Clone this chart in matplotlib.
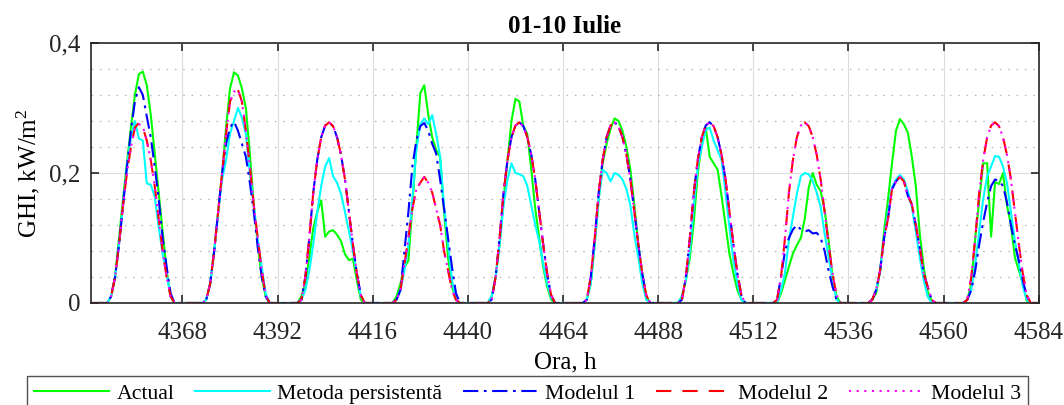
import numpy as np
import matplotlib
matplotlib.use('Agg')
import matplotlib.pyplot as plt
from matplotlib.ticker import MultipleLocator, FuncFormatter

plt.rcParams['font.family'] = ['Liberation Serif', 'DejaVu Serif']
plt.rcParams['mathtext.fontset'] = 'custom'
plt.rcParams['mathtext.rm'] = 'Liberation Serif'
plt.rcParams['mathtext.it'] = 'Liberation Serif:italic'
plt.rcParams['lines.scale_dashes'] = False

# ora din an, 01-10 iulie (10 zile x 24 h)
hours = np.arange(4345, 4585)
xticks = np.arange(4368, 4585, 24)

# GHI masurat, kW/m2, cate o linie pe zi
actual = [
    [0, 0, 0, 0, 0, .01, .04, .10, .16, .215, .27, .32, .352, .356, .335, .29, .23, .17, .11, .05, .01, 0, 0, 0],
    [0, 0, 0, 0, 0, .005, .03, .08, .14, .20, .27, .33, .355, .35, .33, .30, .23, .15, .09, .04, .01, 0, 0, 0],
    [0, 0, 0, 0, 0, .01, .03, .07, .115, .14, .158, .102, .11, .112, .105, .095, .075, .066, .068, .035, .005, 0, 0, 0],
    [0, 0, 0, 0, 0, .01, .03, .055, .065, .15, .24, .323, .335, .29, .255, .235, .225, .14, .07, .025, .005, 0, 0, 0],
    [0, 0, 0, 0, 0, .01, .04, .09, .16, .22, .28, .314, .31, .272, .26, .205, .145, .10, .055, .025, .005, 0, 0, 0],
    [0, 0, 0, 0, 0, .005, .03, .09, .16, .215, .245, .268, .284, .28, .265, .24, .205, .15, .09, .045, .01, 0, 0, 0],
    [0, 0, 0, 0, 0, .01, .035, .07, .125, .20, .245, .27, .225, .215, .205, .165, .12, .075, .045, .02, .005, 0, 0, 0],
    [0, 0, 0, 0, 0, 0, .015, .035, .056, .076, .089, .10, .13, .178, .20, .182, .172, .143, .097, .04, .01, 0, 0, 0],
    [0, 0, 0, 0, 0, .005, .015, .05, .11, .16, .215, .265, .283, .275, .262, .225, .18, .107, .055, .018, .003, 0, 0, 0],
    [0, 0, 0, 0, 0, .005, .03, .10, .158, .215, .215, .102, .186, .183, .20, .15, .12, .07, .05, .03, .003, 0, 0, 0],
]

persist = [
    [0, 0, 0, 0, 0, .01, .04, .09, .15, .21, .255, .28, .253, .25, .184, .182, .164, .117, .075, .045, .01, 0, 0, 0],
    [0, 0, 0, 0, 0, .005, .03, .08, .14, .19, .22, .261, .28, .30, .285, .26, .20, .148, .097, .055, .015, 0, 0, 0],
    [0, 0, 0, 0, 0, .005, .02, .05, .09, .14, .18, .21, .223, .195, .185, .168, .14, .11, .08, .045, .01, 0, 0, 0],
    [0, 0, 0, 0, 0, .005, .02, .05, .09, .16, .235, .275, .284, .275, .289, .26, .225, .148, .09, .035, .005, 0, 0, 0],
    [0, 0, 0, 0, 0, .01, .04, .09, .15, .19, .215, .20, .198, .195, .18, .15, .12, .095, .06, .03, .008, 0, 0, 0],
    [0, 0, 0, 0, 0, .005, .03, .09, .16, .205, .20, .187, .20, .197, .19, .175, .15, .105, .07, .03, .005, 0, 0, 0],
    [0, 0, 0, 0, 0, .01, .035, .08, .15, .21, .24, .266, .27, .25, .235, .22, .17, .115, .065, .03, .005, 0, 0, 0],
    [0, 0, 0, 0, 0, 0, .02, .046, .097, .133, .168, .195, .20, .198, .187, .17, .148, .107, .071, .035, .005, 0, 0, 0],
    [0, 0, 0, 0, 0, .005, .02, .05, .10, .14, .178, .19, .197, .19, .172, .148, .11, .07, .035, .01, 0, 0, 0, 0],
    [0, 0, 0, 0, 0, .005, .02, .06, .11, .16, .195, .21, .226, .225, .21, .185, .14, .095, .06, .025, .005, 0, 0, 0],
]

# profil de cer senin dat de modele in zilele fara corectie
clear_day = [0, 0, 0, 0, 0, .005, .04, .10, .17, .22, .255, .273, .278, .272, .255, .228, .19, .14, .09, .045, .012, 0, 0, 0]

model1 = [
    [0, 0, 0, 0, 0, .01, .04, .09, .15, .21, .265, .31, .332, .32, .287, .255, .21, .16, .10, .056, .015, 0, 0, 0],
    [0, 0, 0, 0, 0, .005, .03, .08, .14, .20, .245, .27, .279, .265, .245, .225, .185, .14, .085, .04, .01, 0, 0, 0],
    clear_day,
    [0, 0, 0, 0, 0, .005, .02, .08, .14, .21, .25, .272, .277, .265, .245, .23, .19, .145, .10, .055, .015, 0, 0, 0],
    clear_day,
    clear_day,
    clear_day,
    [0, 0, 0, 0, 0, .005, .04, .08, .10, .113, .12, .113, .11, .112, .107, .108, .10, .08, .05, .025, .005, 0, 0, 0],
    [0, 0, 0, 0, 0, .005, .02, .05, .10, .13, .175, .187, .194, .187, .165, .152, .12, .085, .045, .025, .005, 0, 0, 0],
    [0, 0, 0, 0, 0, .005, .02, .05, .09, .125, .155, .18, .19, .188, .18, .155, .12, .09, .065, .035, .01, 0, 0, 0],
]

model2 = [
    [0, 0, 0, 0, 0, .01, .04, .09, .15, .20, .24, .27, .277, .27, .25, .22, .18, .13, .08, .04, .01, 0, 0, 0],
    [0, 0, 0, 0, 0, .005, .03, .08, .14, .20, .26, .31, .325, .328, .31, .265, .21, .15, .10, .05, .012, 0, 0, 0],
    clear_day,
    [0, 0, 0, 0, 0, .005, .02, .06, .10, .145, .175, .185, .194, .185, .17, .145, .12, .08, .05, .02, .005, 0, 0, 0],
    clear_day,
    clear_day,
    clear_day,
    clear_day,
    [0, 0, 0, 0, 0, .005, .02, .05, .10, .13, .175, .187, .194, .187, .165, .152, .12, .085, .045, .025, .005, 0, 0, 0],
    clear_day,
]

model3 = [
    [0, 0, 0, 0, 0, .01, .04, .09, .15, .20, .24, .268, .275, .272, .25, .22, .18, .13, .08, .04, .01, 0, 0, 0],
    [0, 0, 0, 0, 0, .005, .03, .08, .14, .20, .26, .31, .325, .328, .31, .265, .21, .15, .10, .05, .012, 0, 0, 0],
    clear_day,
    [0, 0, 0, 0, 0, .005, .02, .06, .10, .145, .175, .185, .194, .185, .17, .145, .12, .08, .05, .02, .005, 0, 0, 0],
    clear_day,
    clear_day,
    clear_day,
    clear_day,
    [0, 0, 0, 0, 0, .005, .02, .05, .10, .13, .175, .187, .194, .187, .165, .152, .12, .085, .045, .025, .005, 0, 0, 0],
    clear_day,
]

fig = plt.figure(figsize=(10.64, 4.05), dpi=100)
ax = fig.add_axes([0.0858, 0.2519, 0.8904, 0.6419])

ax.plot(hours, np.concatenate(actual), color='#00ff00', lw=1.5, label='Actual')
ax.plot(hours, np.concatenate(persist), color='#00ffff', lw=1.5, label='Metoda persistentă')
ax.plot(hours, np.concatenate(model1), color='#0000ff', lw=1.5, linestyle=(0, (11, 4, 2, 4)), label='Modelul 1')
ax.plot(hours, np.concatenate(model2), color='#ff0000', lw=1.5, linestyle=(0, (11, 8)), label='Modelul 2')
ax.plot(hours, np.concatenate(model3), color='#ff00ff', lw=1.5, linestyle=(0, (1.5, 4)), label='Modelul 3')

ax.set_xlim(4345, 4584)
ax.set_ylim(0, 0.4)
ax.set_xticks(xticks)
ax.set_yticks([0, 0.2, 0.4])
ax.yaxis.set_minor_locator(MultipleLocator(0.04))
ax.yaxis.set_major_formatter(FuncFormatter(lambda v, p: ('%g' % v).replace('.', ',')))

ax.set_axisbelow(True)
ax.grid(which='major', color='#dcdcdc', lw=0.8)
ax.grid(which='minor', axis='y', color='#b8b8b8', lw=0.9, linestyle=(0, (1.2, 4.8)))
ax.tick_params(which='major', direction='in', length=6, width=1.2, top=True, right=True,
               labelsize=18, colors='#262626', pad=8)
ax.tick_params(axis='x', pad=14)
ax.tick_params(which='minor', length=0)
for s in ax.spines.values():
    s.set_color('#262626')
    s.set_linewidth(1.2)

ax.set_title('01-10 Iulie', fontsize=18, fontweight='bold', pad=7)
ax.set_xlabel('Ora, h', fontsize=18, labelpad=5)
ax.set_ylabel('GHI, kW/m$^2$', fontsize=18)
ax.yaxis.set_label_coords(-0.052, 0.5)

leg = fig.legend(loc='upper left', bbox_to_anchor=(26.7 / 1064, 1 - 375.7 / 405), borderaxespad=0,
                 ncol=5, fontsize=15.7, frameon=True, fancybox=False, edgecolor='#262626',
                 handlelength=3.44, handletextpad=0.32, columnspacing=0.95, borderpad=0.35)
leg.get_frame().set_linewidth(1.0)

fig.savefig('out.png', dpi=100)
